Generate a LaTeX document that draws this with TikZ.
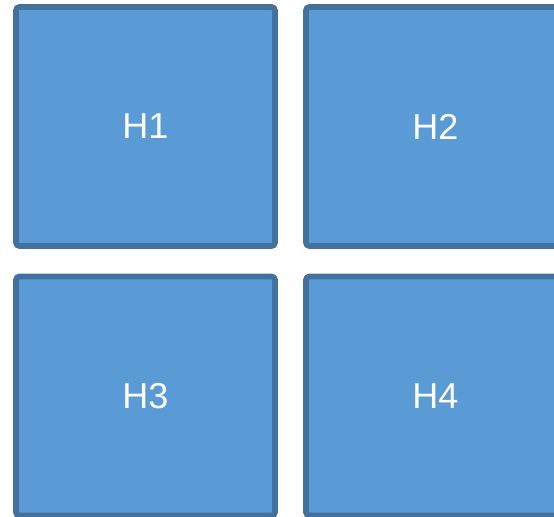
\documentclass[tikz,border=0pt]{standalone}
\usepackage{fontspec}
\setmainfont{Liberation Sans}
\definecolor{boxfill}{HTML}{5B9BD5}
\definecolor{boxline}{HTML}{41719C}
\begin{document}
\begin{tikzpicture}[x=0.75pt,y=-0.75pt,
  hbox/.style={draw=boxline,fill=boxfill,line width=4.2pt,rounded corners=2.5pt,
    minimum width=259*0.75pt,minimum height=239*0.75pt,inner sep=0pt,
    text=white,font=\fontsize{27}{30}\selectfont}]
\useasboundingbox (0,0) rectangle (554,517);
\node[hbox] (h1) at (145.5,126.5) {H1};
\node[hbox] (h2) at (435.5,126.5) {H2};
\node[hbox] (h3) at (145.5,396) {H3};
\node[hbox] (h4) at (435.5,396) {H4};
\end{tikzpicture}
\end{document}
